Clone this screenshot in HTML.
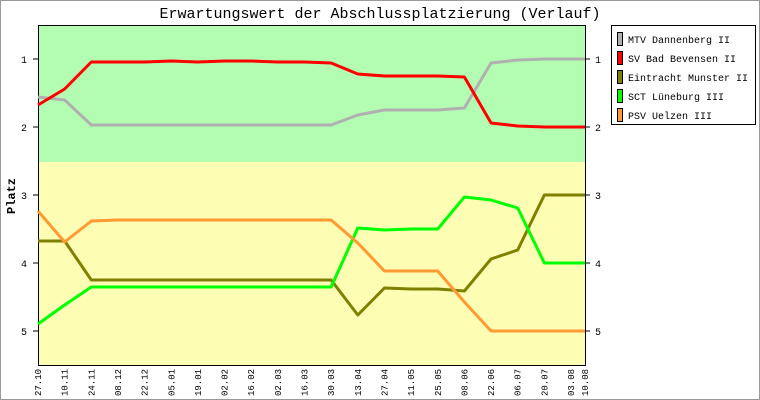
<!DOCTYPE html><html><head><style>body{margin:0;background:#fff}svg{display:block}</style></head><body>
<svg width="760" height="400" xmlns="http://www.w3.org/2000/svg" font-family="Liberation Mono, DejaVu Sans Mono, monospace">
<rect x="0.5" y="0.5" width="759" height="399" fill="#fff" stroke="#999"/>
<text x="380" y="18" text-anchor="middle" font-size="15">Erwartungswert der Abschlussplatzierung (Verlauf)</text>
<rect x="38" y="25" width="547" height="137" fill="#b3fdb3"/>
<rect x="38" y="162" width="547" height="203" fill="#fdfdb3"/>
<rect x="38.5" y="25.5" width="547" height="340" fill="none" stroke="#000"/>
<g font-size="10" text-anchor="middle">
<text x="24" y="63">1</text><text x="24" y="131">2</text><text x="24" y="199">3</text><text x="24" y="267">4</text><text x="24" y="335">5</text>
<text x="598" y="63">1</text><text x="598" y="131">2</text><text x="598" y="199">3</text><text x="598" y="267">4</text><text x="598" y="335">5</text>
</g>
<g stroke="#000"><line x1="33" y1="59" x2="38" y2="59"/><line x1="33" y1="127" x2="38" y2="127"/><line x1="33" y1="195" x2="38" y2="195"/><line x1="33" y1="263" x2="38" y2="263"/><line x1="33" y1="331" x2="38" y2="331"/>
<line x1="585" y1="59" x2="590" y2="59"/><line x1="585" y1="127" x2="590" y2="127"/><line x1="585" y1="195" x2="590" y2="195"/><line x1="585" y1="263" x2="590" y2="263"/><line x1="585" y1="331" x2="590" y2="331"/></g>
<text transform="translate(15,196) rotate(-90)" text-anchor="middle" font-size="12" font-weight="bold">Platz</text>
<g font-size="9" id="xl"></g>
<g fill="none" stroke-width="3" stroke-linejoin="round">
<polyline id="p1" stroke="#b0b0b0"/><polyline id="p2" stroke="#ff0000"/><polyline id="p3" stroke="#808000"/><polyline id="p4" stroke="#00ff00"/><polyline id="p5" stroke="#ff9933"/>
</g>
<rect x="611.5" y="25.5" width="144" height="99" fill="#fff" stroke="#000"/>
<g stroke="#000">
<rect x="617.5" y="32.5" width="5" height="13" fill="#b0b0b0"/><rect x="617.5" y="51.5" width="5" height="13" fill="#ff0000"/><rect x="617.5" y="70.5" width="5" height="13" fill="#808000"/><rect x="617.5" y="89.5" width="5" height="13" fill="#00ff00"/><rect x="617.5" y="108.5" width="5" height="13" fill="#ff9933"/>
</g>
<g font-size="10">
<text x="628" y="43">MTV Dannenberg II</text><text x="628" y="62">SV Bad Bevensen II</text><text x="628" y="81">Eintracht Munster II</text><text x="628" y="100">SCT Lüneburg III</text><text x="628" y="119">PSV Uelzen III</text>
</g>
</svg>
<script>
var L=["27.10","10.11","24.11","08.12","22.12","05.01","19.01","02.02","16.02","02.03","16.03","30.03","13.04","27.04","11.05","25.05","08.06","22.06","06.07","20.07","03.08","10.08"];
function X(i){return i<21?38+i*26.65:585;}
var g=document.getElementById('xl'),h='';
L.forEach(function(l,i){var x=X(i)+3;h+='<text transform="translate('+x+',396) rotate(-90)">'+l+'</text>';});
g.innerHTML=h;
var D={p1:[97,100,125,125,125,125,125,125,125,125,125,125,115,110,110,110,108,63,60,59,59,59],
p2:[105,89,62,62,62,61,62,61,61,62,62,63,74,76,76,76,77,123,126,127,127,127],
p3:[241,241,280,280,280,280,280,280,280,280,280,280,315,288,289,289,291,259,250,195,195,195],
p4:[324,305,287,287,287,287,287,287,287,287,287,287,228,230,229,229,197,200,208,263,263,263],
p5:[211,242,221,220,220,220,220,220,220,220,220,220,243,271,271,271,302,331,331,331,331,331]};
for(var k in D){document.getElementById(k).setAttribute('points',D[k].map(function(y,i){return X(i)+','+y}).join(' '));}
</script>
</body></html>
